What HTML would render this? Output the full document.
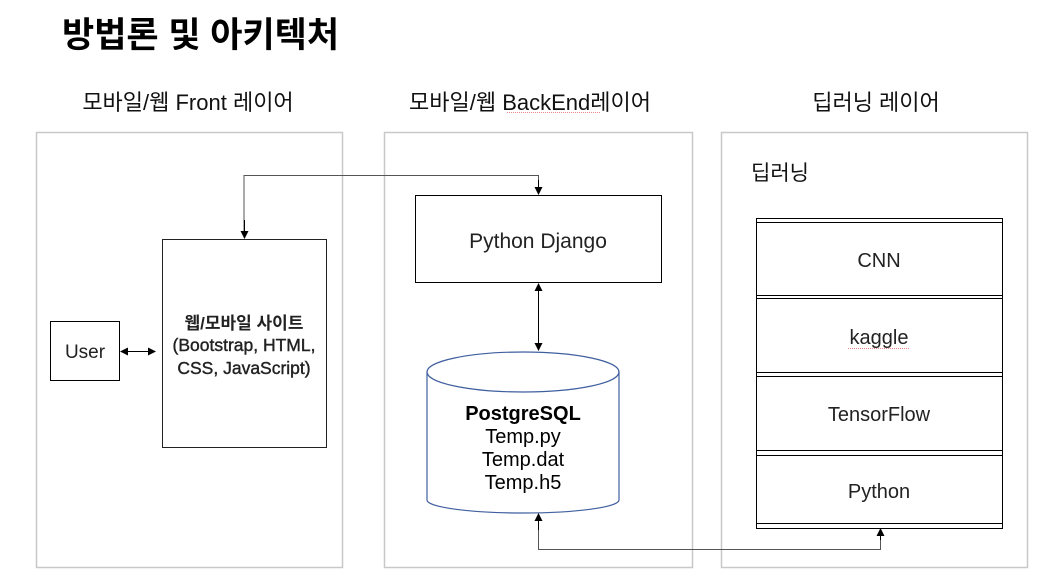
<!DOCTYPE html>
<html><head><meta charset="utf-8"><style>
html,body{margin:0;padding:0;background:#fff;}
svg{display:block;font-family:"Liberation Sans","Noto Sans CJK KR",sans-serif;}
</style></head><body>
<svg width="1056" height="584" viewBox="0 0 1056 584" xmlns="http://www.w3.org/2000/svg">
<defs>
<marker id="a" markerWidth="8" markerHeight="8" refX="7" refY="4" orient="auto" markerUnits="userSpaceOnUse">
<path d="M0,0 L8,4 L0,8 z" fill="#000"/></marker>
</defs>
<text x="62" y="47" font-size="35" font-weight="bold" fill="#000">방법론 및 아키텍처</text>
<text x="188" y="110" font-size="22" text-anchor="middle" fill="#111">모바일/웹 Front 레이어</text>
<text x="530" y="110" font-size="22" text-anchor="middle" fill="#111">모바일/웹 BackEnd레이어</text>
<text x="876" y="110" font-size="22" text-anchor="middle" fill="#111">딥러닝 레이어</text>
<path d="M507,112.5 h93" stroke="#e88" stroke-width="1" stroke-dasharray="1,1"/>
<rect x="36.5" y="132.5" width="306" height="435" fill="none" stroke="#c8c8c8" stroke-width="1.5"/>
<rect x="384.5" y="132.5" width="308" height="435" fill="none" stroke="#c8c8c8" stroke-width="1.5"/>
<rect x="721.5" y="132.5" width="306" height="435" fill="none" stroke="#c8c8c8" stroke-width="1.5"/>
<text x="751" y="180" font-size="21" fill="#111">딥러닝</text>
<!-- left -->
<rect x="50.5" y="321.5" width="69" height="59" fill="#fff" stroke="#000"/>
<text x="85" y="358" font-size="19" text-anchor="middle" fill="#222">User</text>
<rect x="162.5" y="239.5" width="164" height="208" fill="#fff" stroke="#222"/>
<text x="244" y="329" font-size="17" font-weight="bold" text-anchor="middle" fill="#222">웹/모바일 사이트</text>
<text x="244" y="351" font-size="17.5" text-anchor="middle" fill="#222" stroke="#222" stroke-width="0.4">(Bootstrap, HTML,</text>
<text x="244" y="374" font-size="17.5" text-anchor="middle" fill="#222" stroke="#222" stroke-width="0.4">CSS,  JavaScript)</text>
<line x1="128" y1="351.5" x2="155" y2="351.5" stroke="#000" marker-end="url(#a)"/>
<line x1="155" y1="351.5" x2="121" y2="351.5" stroke="#000" marker-end="url(#a)"/>
<!-- top connector -->
<polyline points="244,232 244,175.5 538.5,175.5 538.5,188" fill="none" stroke="#555" stroke-width="1"/>
<line x1="244.5" y1="220" x2="244.5" y2="238" stroke="#000" marker-end="url(#a)"/>
<line x1="538.5" y1="180" x2="538.5" y2="194" stroke="#000" marker-end="url(#a)"/>
<!-- django -->
<rect x="415.5" y="195.5" width="246" height="87" fill="#fff" stroke="#000"/>
<text x="538" y="248" font-size="21" text-anchor="middle" fill="#222">Python Django</text>
<line x1="538.5" y1="300" x2="538.5" y2="350" stroke="#000" marker-end="url(#a)"/>
<line x1="538.5" y1="330" x2="538.5" y2="284" stroke="#000" marker-end="url(#a)"/>
<!-- cylinder -->
<path d="M427,372 A96,20 0 0 1 619,372 V500 A96,13 0 0 1 427,500 Z" fill="#fff" stroke="#3f5f9f" stroke-width="1.2"/>
<path d="M427,372 A96,20 0 0 0 619,372" fill="none" stroke="#3f5f9f" stroke-width="1.2"/>
<text x="523" y="420" font-size="20" font-weight="bold" text-anchor="middle" fill="#000">PostgreSQL</text>
<text x="523" y="443" font-size="20" text-anchor="middle" fill="#000">Temp.py</text>
<text x="523" y="466" font-size="20" text-anchor="middle" fill="#000">Temp.dat</text>
<text x="523" y="489" font-size="20" text-anchor="middle" fill="#000">Temp.h5</text>
<!-- bottom connector -->
<polyline points="538.5,525 538.5,549.5 880.5,549.5 880.5,535" fill="none" stroke="#555" stroke-width="1"/>
<line x1="538.5" y1="530" x2="538.5" y2="514" stroke="#000" marker-end="url(#a)"/>
<line x1="880.5" y1="540" x2="880.5" y2="529" stroke="#000" marker-end="url(#a)"/>
<!-- stack -->
<g fill="#fff" stroke="#000" stroke-width="1">
<rect x="756.5" y="218.5" width="246" height="310"/>
<line x1="756" y1="222.5" x2="1003" y2="222.5"/>
<line x1="756" y1="295.5" x2="1003" y2="295.5"/>
<line x1="756" y1="298.5" x2="1003" y2="298.5"/>
<line x1="756" y1="372.5" x2="1003" y2="372.5"/>
<line x1="756" y1="376.5" x2="1003" y2="376.5"/>
<line x1="756" y1="450.5" x2="1003" y2="450.5"/>
<line x1="756" y1="455.5" x2="1003" y2="455.5"/>
<line x1="756" y1="523.5" x2="1003" y2="523.5"/>
</g>
<text x="879" y="267" font-size="20" text-anchor="middle" fill="#222">CNN</text>
<text x="879" y="344" font-size="20" text-anchor="middle" fill="#222">kaggle</text>
<path d="M848,348.5 h62" stroke="#e88" stroke-width="1" stroke-dasharray="1,1"/>
<text x="879" y="421" font-size="20" text-anchor="middle" fill="#222">TensorFlow</text>
<text x="879" y="498" font-size="20" text-anchor="middle" fill="#222">Python</text>
</svg>
</body></html>
